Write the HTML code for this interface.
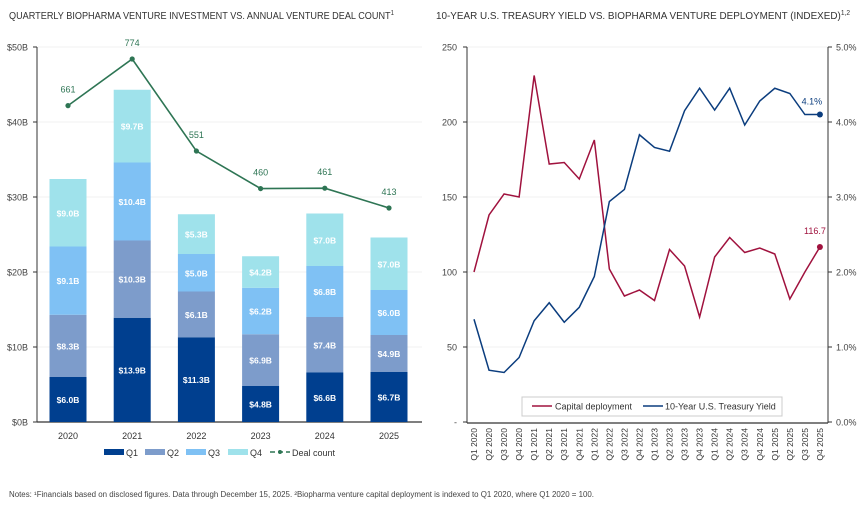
<!DOCTYPE html>
<html><head><meta charset="utf-8"><style>
body{margin:0;background:#fff;width:865px;height:505px;overflow:hidden;font-family:"Liberation Sans",sans-serif;}
svg text{font-family:"Liberation Sans",sans-serif;}
</style></head><body>
<svg id="c" width="865" height="505" xmlns="http://www.w3.org/2000/svg">
<text x="9" y="19" font-size="10.5" fill="#333" textLength="385" lengthAdjust="spacingAndGlyphs">QUARTERLY BIOPHARMA VENTURE INVESTMENT VS. ANNUAL VENTURE DEAL COUNT<tspan font-size="7" dy="-4">1</tspan></text>
<text x="436" y="19" font-size="10.5" fill="#333" textLength="414" lengthAdjust="spacingAndGlyphs">10-YEAR U.S. TREASURY YIELD VS. BIOPHARMA VENTURE DEPLOYMENT (INDEXED)<tspan font-size="7" dy="-4">1,2</tspan></text>
<text x="9" y="497" font-size="8" fill="#444" textLength="585" lengthAdjust="spacingAndGlyphs">Notes: ¹Financials based on disclosed figures. Data through December 15, 2025. ²Biopharma venture capital deployment is indexed to Q1 2020, where Q1 2020 = 100.</text>
<g id="left"></g><g id="right"></g>
</svg>
<script>
const years=["2020","2021","2022","2023","2024","2025"];
const q1=[6.0,13.9,11.3,4.8,6.6,6.7];
const q2=[8.3,10.3,6.1,6.9,7.4,4.9];
const q3=[9.1,10.4,5.0,6.2,6.8,6.0];
const q4=[9.0,9.7,5.3,4.2,7.0,7.0];
const deals=[661,774,551,460,461,413];
const leftTicks=[0,10,20,30,40,50];
const quarters=["Q1 2020","Q2 2020","Q3 2020","Q4 2020","Q1 2021","Q2 2021","Q3 2021","Q4 2021","Q1 2022","Q2 2022","Q3 2022","Q4 2022","Q1 2023","Q2 2023","Q3 2023","Q4 2023","Q1 2024","Q2 2024","Q3 2024","Q4 2024","Q1 2025","Q2 2025","Q3 2025","Q4 2025"];
const capital=[100,138,152,150,231,172,173,162,188,102,84,88,81,115,104,70,110,123,113,116,112,82,100,116.7];
const yieldPct=[1.37,0.69,0.66,0.86,1.35,1.59,1.33,1.53,1.94,2.94,3.10,3.83,3.66,3.61,4.15,4.45,4.16,4.45,3.96,4.28,4.45,4.38,4.10,4.10];
const idxTicks=[0,50,100,150,200,250];
const pctTicks=[0,1,2,3,4,5];

const NS="http://www.w3.org/2000/svg";
function mk(p,t,a,txt){const e=document.createElementNS(NS,t);for(const k in a)e.setAttribute(k,a[k]);if(txt!==undefined)e.textContent=txt;p.appendChild(e);return e;}
// LEFT
const L=document.getElementById('left');
const ly=v=>422-v*7.5, lx=i=>68+i*64.2, dy=v=>59+(774-v)*0.4127;
leftTicks.forEach(t=>{
 if(t>0){const g=mk(L,'line',{x1:38,x2:422,y1:ly(t),y2:ly(t),stroke:'#f0f0f0'});}
 const tx=mk(L,'text',{x:28,y:ly(t)+3.5,'font-size':9,fill:'#444','text-anchor':'end'},'$'+t+'B');
 mk(L,'line',{x1:33,x2:37,y1:ly(t),y2:ly(t),stroke:'#333'});
});
mk(L,'line',{x1:37,x2:37,y1:47,y2:422,stroke:'#333'});
mk(L,'line',{x1:37,x2:422,y1:422,y2:422,stroke:'#333','stroke-width':1.2});
const cols=['#003f8f','#7d9ccb','#7fc1f4','#9fe2eb'];
const series=[q1,q2,q3,q4];
years.forEach((y,i)=>{
 let base=0;
 series.forEach((s,k)=>{
  const v=s[i];
  const r=mk(L,'rect',{x:lx(i)-18.5,y:ly(base+v),width:37,height:v*7.5,fill:cols[k]});
  
  
  const t=mk(L,'text',{x:lx(i),y:ly(base+v/2)+3.5,'font-size':8.5,'font-weight':'bold',fill:'#fff','text-anchor':'middle'},'$'+v.toFixed(1)+'B');
  
  
  base+=v;
 });
 const xl=mk(L,'text',{x:lx(i),y:439,'font-size':9,fill:'#333','text-anchor':'middle'},y);
 
 
});
mk(L,'polyline',{points:deals.map((d,i)=>lx(i)+','+dy(d)).join(' '),fill:'none',stroke:'#2e7554','stroke-width':1.6});
deals.forEach((d,i)=>{
 const c=mk(L,'circle',{cx:lx(i),cy:dy(d),r:2.6,fill:'#2e7554'});
 
 
 const t=mk(L,'text',{x:lx(i),y:dy(d)-13,'font-size':9,fill:'#2e7554','text-anchor':'middle'},String(d));
 
 
});
// left legend
const lg=[['Q1',104],['Q2',145],['Q3',186],['Q4',228]];
lg.forEach((e,k)=>{
 const g=mk(L,'g',{});
 
 
 mk(g,'rect',{x:e[1],y:449,width:20,height:6,fill:cols[k]});
 mk(g,'text',{x:e[1]+22,y:456,'font-size':9,fill:'#333'},e[0]);
});
const dg=mk(L,'g',{});


mk(dg,'line',{x1:270,x2:290,y1:452,y2:452,stroke:'#2e7554','stroke-width':1.4,'stroke-dasharray':'5,3'});
mk(dg,'circle',{cx:280,cy:452,r:2,fill:'#2e7554'});
mk(dg,'text',{x:292,y:456,'font-size':9,fill:'#333'},'Deal count');
// RIGHT
const R=document.getElementById('right');
const rx=i=>474+i*15.04, ry=v=>422-v*1.5, py=p=>422-p*75;
idxTicks.forEach(t=>{
 if(t>0)mk(R,'line',{x1:467,x2:828,y1:ry(t),y2:ry(t),stroke:'#f2f2f2'});
 const tx=mk(R,'text',{x:457,y:ry(t)+3.5,'font-size':9,fill:'#444','text-anchor':'end'},t===0?'-':String(t));
 
 
 mk(R,'line',{x1:463,x2:467,y1:ry(t),y2:ry(t),stroke:'#333'});
});
pctTicks.forEach(t=>{
 const tx=mk(R,'text',{x:836,y:py(t)+3.5,'font-size':9,fill:'#444'},t.toFixed(1)+'%');
 
 
 mk(R,'line',{x1:828,x2:832,y1:py(t),y2:py(t),stroke:'#333'});
});
mk(R,'line',{x1:467,x2:467,y1:47,y2:423,stroke:'#333'});
mk(R,'line',{x1:828,x2:828,y1:47,y2:423,stroke:'#333'});
mk(R,'line',{x1:467,x2:828,y1:423,y2:423,stroke:'#333','stroke-width':1.2});
quarters.forEach((q,i)=>{
 const t=mk(R,'text',{x:0,y:0,'font-size':8.5,fill:'#333','text-anchor':'end',transform:'translate('+(rx(i)+3)+',428) rotate(-90)'},q);
 
 
});
const cl=mk(R,'polyline',{points:capital.map((v,i)=>rx(i)+','+ry(v)).join(' '),fill:'none',stroke:'#a0123e','stroke-width':1.5});


const yl=mk(R,'polyline',{points:yieldPct.map((v,i)=>rx(i)+','+py(v)).join(' '),fill:'none',stroke:'#0b3d7e','stroke-width':1.5});


const n=quarters.length-1;
mk(R,'circle',{cx:rx(n),cy:ry(capital[n]),r:3,fill:'#a0123e'});
mk(R,'circle',{cx:rx(n),cy:py(yieldPct[n]),r:3,fill:'#0b3d7e'});
mk(R,'text',{x:rx(n)-5,y:ry(capital[n])-13,'font-size':9,fill:'#a0123e','text-anchor':'middle'},String(capital[n]));
mk(R,'text',{x:rx(n)-8,y:py(yieldPct[n])-10,'font-size':9,fill:'#0b3d7e','text-anchor':'middle'},yieldPct[n].toFixed(1)+'%');
const lb=mk(R,'g',{});


mk(lb,'rect',{x:522,y:397,width:260,height:19,fill:'#fff',stroke:'#ccc'});
mk(lb,'line',{x1:532,x2:552,y1:406,y2:406,stroke:'#a0123e','stroke-width':1.5});
mk(lb,'text',{x:555,y:409.5,'font-size':9,fill:'#333'},'Capital deployment');
mk(lb,'line',{x1:643,x2:663,y1:406,y2:406,stroke:'#0b3d7e','stroke-width':1.5});
mk(lb,'text',{x:665,y:409.5,'font-size':9,fill:'#333'},'10-Year U.S. Treasury Yield');
</script>
</body></html>
